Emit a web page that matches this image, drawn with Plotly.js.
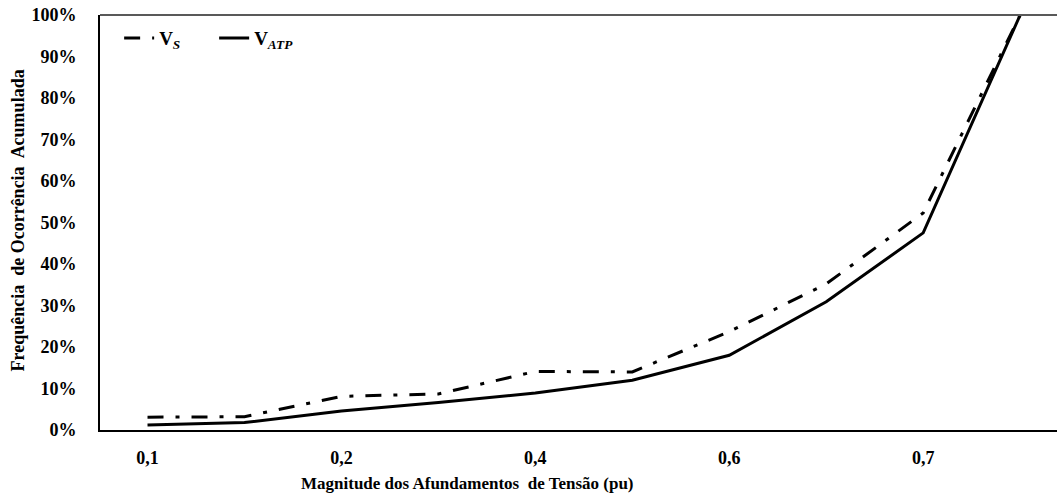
<!DOCTYPE html>
<html>
<head>
<meta charset="utf-8">
<script src="https://cdn.plot.ly/plotly-3.0.1.min.js"></script>
<style>html,body{margin:0;padding:0;background:#fff;}#chart{width:1057px;height:494px;}</style>
</head>
<body>
<div id="chart"></div>
<script>
// Category labels along x (only every other one is labelled in the source)
const categories = ['0,1', '', '0,2', '', '0,4', '', '0,6', '', '0,7', ''];
// Cumulative occurrence frequency (%)
const vS   = [3.1, 3.2, 8.1, 8.7, 14.1, 14.0, 23.7, 35.2, 52.3, 100];
const vATP = [1.2, 1.8, 4.6, 6.6, 8.9, 12.0, 18.0, 30.9, 47.5, 100];
const yTicks = [0, 10, 20, 30, 40, 50, 60, 70, 80, 90, 100];

const xIdx = categories.map((_, i) => i);
const tickvals = xIdx.filter(i => categories[i] !== '');
const ticktext = tickvals.map(i => categories[i]);

const fontFam = 'Liberation Serif, Times New Roman, serif';

const traces = [
  {
    x: xIdx, y: vS.map(v => v / 100), type: 'scatter', mode: 'lines',
    name: 'V<sub><i>S</i></sub>',
    line: {color: '#000', width: 3, dash: '16px,12px,4px,12px'}
  },
  {
    x: xIdx, y: vATP.map(v => v / 100), type: 'scatter', mode: 'lines',
    name: 'V<sub><i>ATP</i></sub>',
    line: {color: '#000', width: 3}
  }
];

const layout = {
  width: 1057, height: 494,
  margin: {l: 100, r: 0, t: 15, b: 64},
  paper_bgcolor: '#fff', plot_bgcolor: '#fff',
  font: {family: fontFam, size: 17, color: '#000', weight: 'bold'},
  showlegend: true,
  legend: {
    orientation: 'h', x: 0.02, y: 0.99, xanchor: 'left', yanchor: 'top',
    bgcolor: 'rgba(0,0,0,0)', font: {family: fontFam, size: 19, color: '#000', weight: 'bold'},
    entrywidth: 50, entrywidthmode: 'pixels', tracegroupgap: 0
  },
  xaxis: {
    range: [-0.49, 9.38],
    tickvals: tickvals, ticktext: ticktext,
    showgrid: false, zeroline: false,
    showline: true, linecolor: '#000', linewidth: 2,
    ticks: '', ticklabelstandoff: 10,
    tickfont: {family: fontFam, size: 18, color: '#000', weight: 'bold'},
    fixedrange: true
  },
  yaxis: {
    range: [0, 1],
    tickvals: yTicks.map(v => v / 100),
    ticktext: yTicks.map(v => v + '%'),
    showgrid: false, zeroline: false,
    showline: true, linecolor: '#000', linewidth: 2,
    ticks: '', ticklabelstandoff: 18,
    tickfont: {family: fontFam, size: 18, color: '#000', weight: 'bold'},
    fixedrange: true
  },
  shapes: [
    {type: 'line', xref: 'paper', yref: 'paper', x0: 0, x1: 1, y0: 1, y1: 1,
     line: {color: '#595959', width: 2}}
  ],
  annotations: [
    {text: 'Magnitude dos Afundamentos  de Tensão (pu)', xref: 'paper', yref: 'paper',
     x: 0.3835, y: 0, yshift: -53, xanchor: 'center', yanchor: 'middle', showarrow: false,
     font: {family: fontFam, size: 17, color: '#000', weight: 'bold'}},
    {text: 'Frequência  de Ocorrência  Acumulada', xref: 'paper', yref: 'paper',
     x: 0, xshift: -83, y: 0.5, yshift: 2, xanchor: 'center', yanchor: 'middle', textangle: -90, showarrow: false,
     font: {family: fontFam, size: 18, color: '#000', weight: 'bold'}}
  ]
};

Plotly.newPlot('chart', traces, layout, {displayModeBar: false, staticPlot: true});
</script>
</body>
</html>
